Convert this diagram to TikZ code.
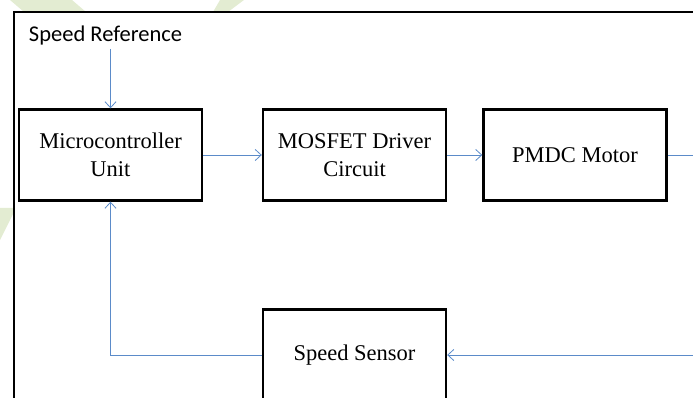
\documentclass[tikz,border=0pt]{standalone}
\usepackage{fontspec}
\newfontfamily\calibri{Carlito}
\newfontfamily\blockfont{Liberation Serif}
\usetikzlibrary{arrows.meta}
\definecolor{linkblue}{HTML}{5B8BC9}
\definecolor{markgreen}{HTML}{E3ECD2}
\tikzset{
  block/.style={draw, line width=2.4pt, minimum width=183pt, minimum height=91pt,
    align=center, inner sep=0pt, font=\blockfont\fontsize{22.5}{28}\selectfont},
  flow/.style={linkblue, line width=0.8pt, -{Straight Barb[length=6pt,width=11pt]}},
  link/.style={linkblue, line width=0.8pt}
}
\begin{document}
\begin{tikzpicture}[x=1pt,y=-1pt]
\useasboundingbox (0,0) rectangle (693,398);
\clip (0,0) rectangle (693,398);
% faint marks behind the frame
\fill[markgreen] (10,0) -- (72,0) -- (86,12) -- (24,12) -- cycle;
\fill[markgreen] (220,0) -- (244,0) -- (228,12) -- (213,12) -- cycle;
\fill[markgreen] (0,208) -- (13,208) -- (13,214) -- (0,240) -- cycle;
% frame
\draw[line width=2pt] (14,420) -- (14,12) -- (710,12);
% blocks
\node[block] (mcu) at (110.5,155) {Microcontroller\\Unit};
\node[block] (driver) at (354.5,155) {MOSFET Driver\\Circuit};
\node[block] (motor) at (575,155) {PMDC Motor};
\node[block] (sensor) at (354.5,355) {Speed Sensor};
\node[font=\calibri\fontsize{22.5}{24}\selectfont, inner sep=0pt] (ref) at (105.5,36) {Speed Reference};
\coordinate (out) at (705,155);
\coordinate (in) at (705,355);
% connectors
\draw[flow] (ref.south -| mcu.north) ++(0,3) -- (mcu.north);
\draw[flow] (mcu) -- (driver);
\draw[flow] (driver) -- (motor);
\draw[link] (motor.east) -- (out);
\draw[flow] (in) -- (sensor.east);
\draw[flow] (sensor.west) -| (mcu.south);
\end{tikzpicture}
\end{document}
